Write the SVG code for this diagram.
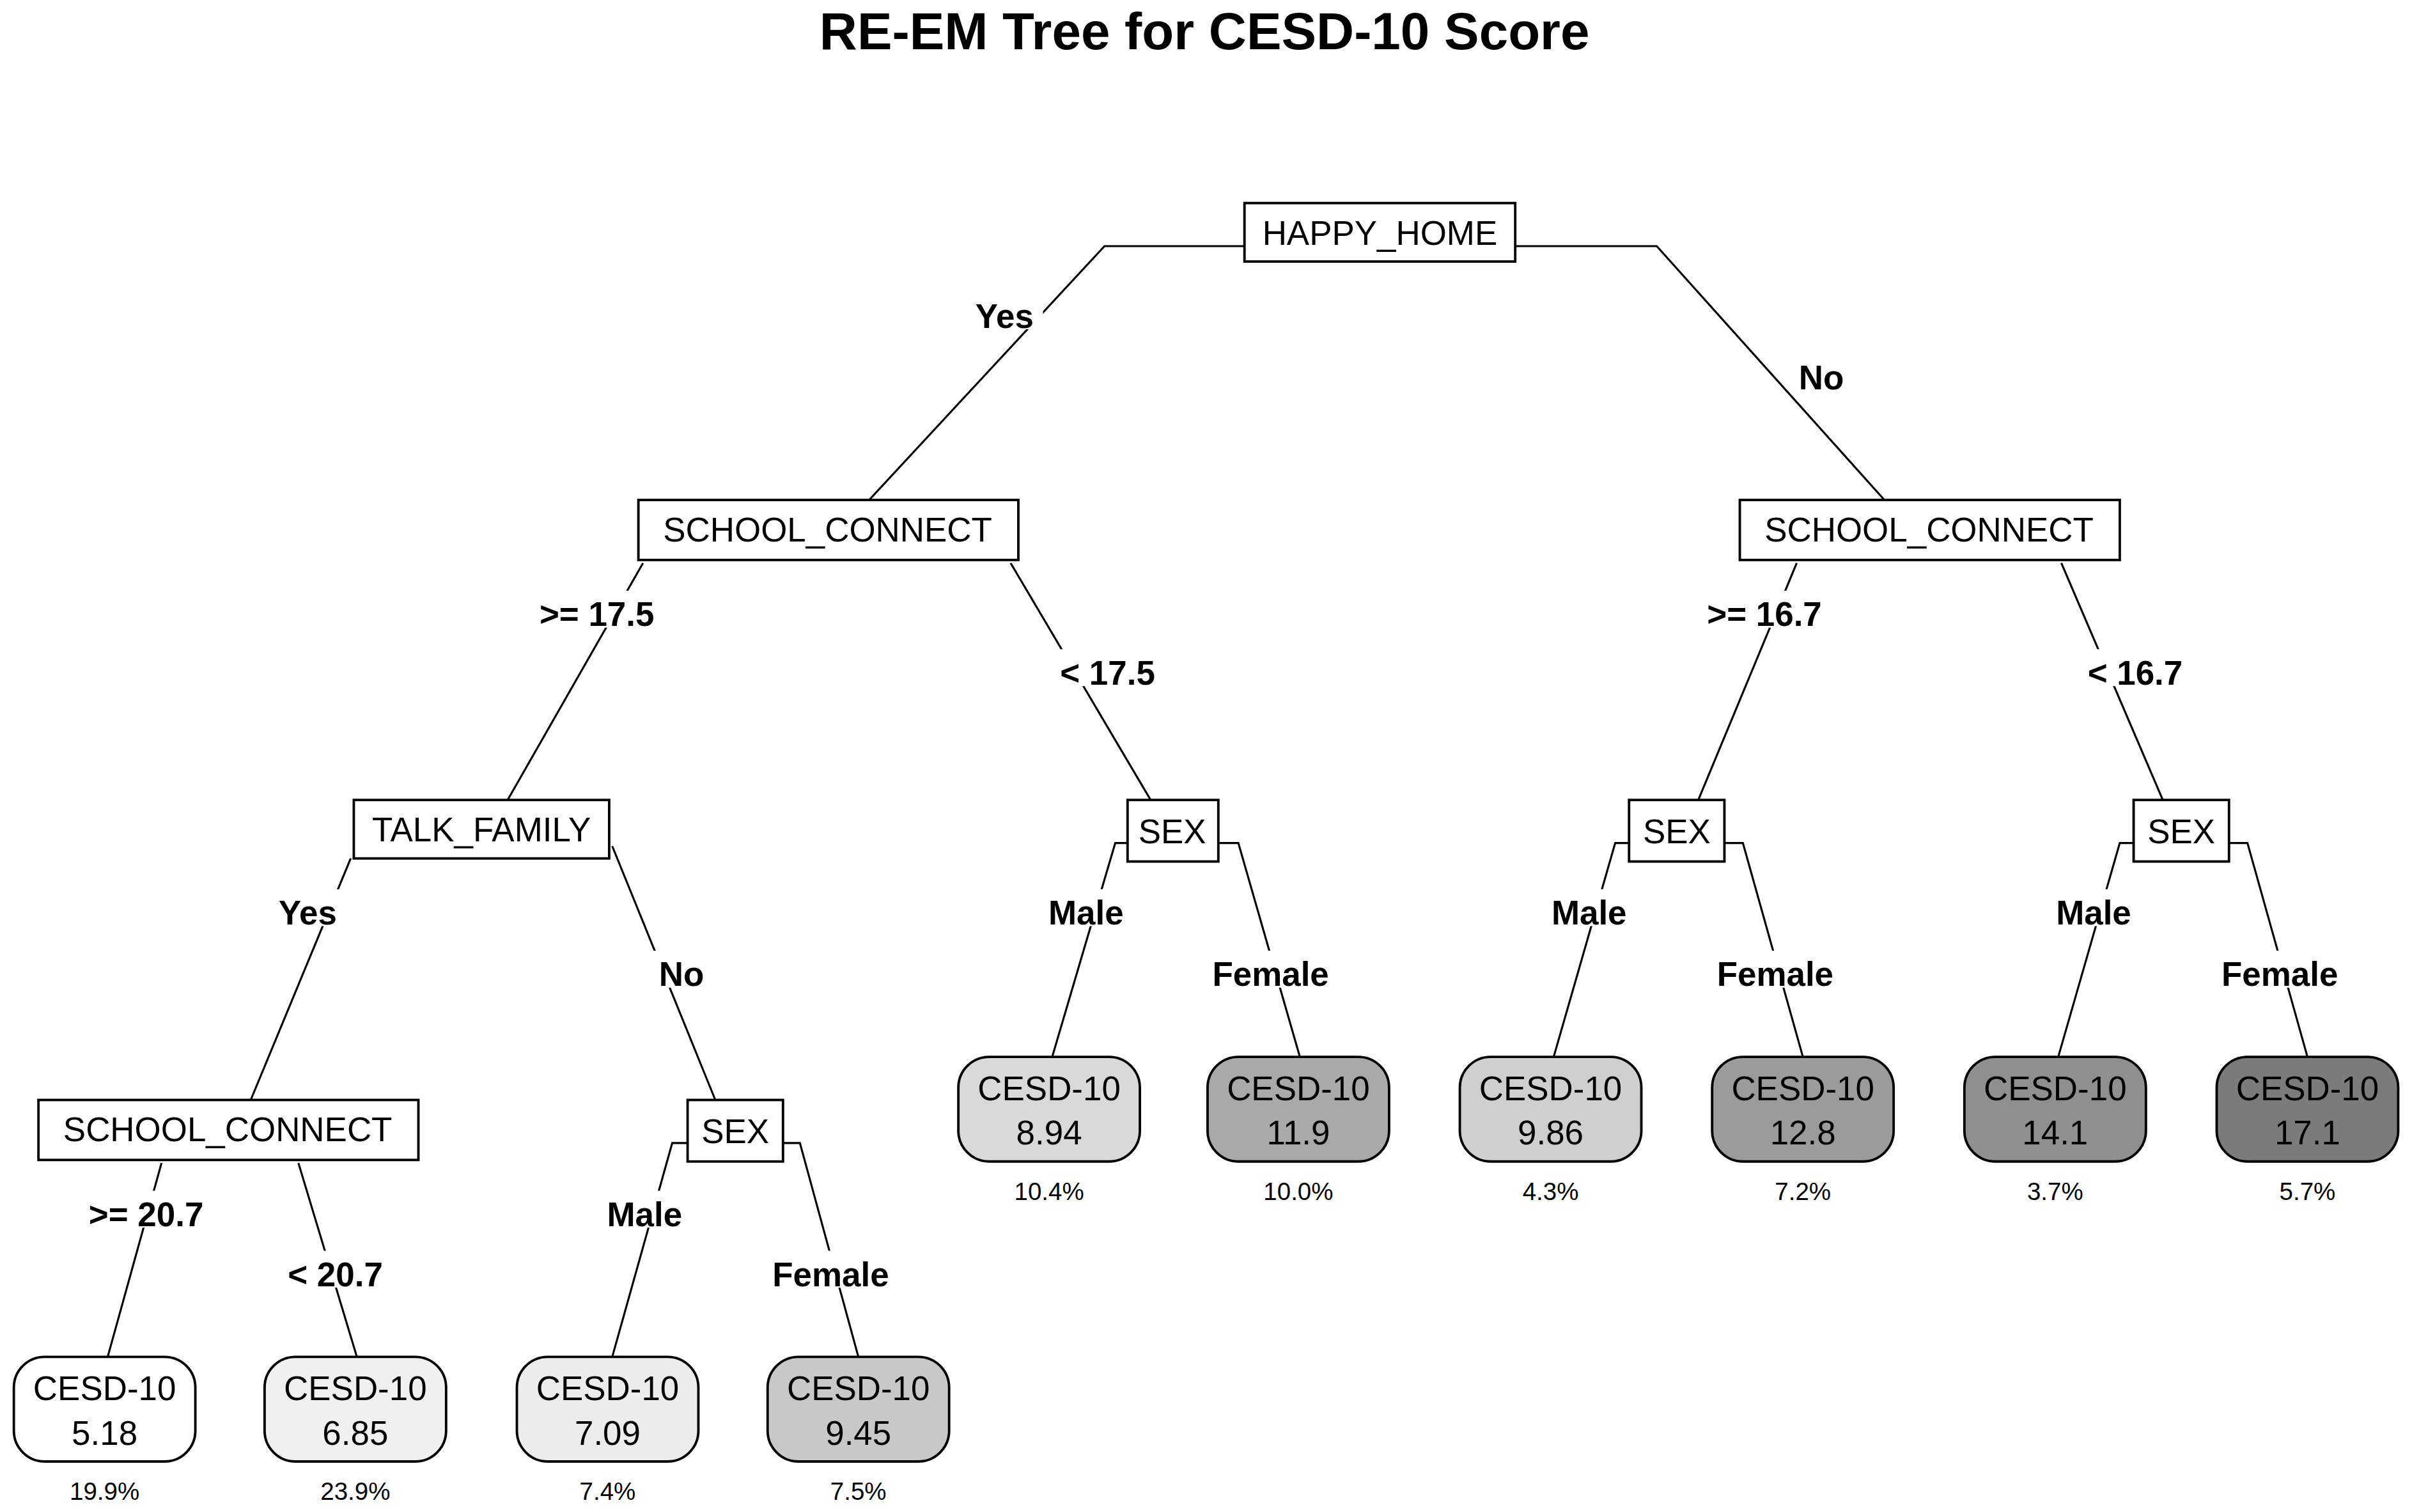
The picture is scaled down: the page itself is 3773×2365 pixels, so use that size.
<svg xmlns="http://www.w3.org/2000/svg" width="3773" height="2365" viewBox="0 0 3773 2365">
<style>
text{font-family:"Liberation Sans",Arial,sans-serif;text-anchor:middle}
.t{font-size:34px;font-weight:bold}
.n{font-size:22px}
.lb{font-size:22px;font-weight:bold}
.p{font-size:16px}
.box{fill:#fff;stroke:#000;stroke-width:1.6}
.leaf{stroke:#000;stroke-width:1.6}
.c{fill:none;stroke:#000;stroke-width:1.3}
.bg{fill:#fff}
</style>
<rect width="3773" height="2365" fill="#fff"/>
<g transform="scale(2.4063)">
<text class="t" x="783" y="32">RE-EM Tree for CESD-10 Score</text>
<g id="connectors">
<path class="c" d="M809,160H718L565,325M985,160H1077L1225,325"/>
<path class="c" d="M418,366L330,520M657,366L748,520M1168,366L1104,520M1340,366L1406,520"/>
<path class="c" d="M228,558L163,715M398,550L465,715"/>
<path class="c" d="M733,548H725L684,687M792,548H805L845,687"/>
<path class="c" d="M1059,548H1050L1010,687M1121,548H1133L1172,687"/>
<path class="c" d="M1387,548H1378L1338,687M1449,548H1461L1500,687"/>
<path class="c" d="M105,756L70,882M194,756L232,882"/>
<path class="c" d="M447,743H437L398,882M509,743H520L558,882"/>
<g class="lb">
<rect class="bg" x="628" y="190" width="50" height="24"/><text x="653" y="213">Yes</text>
<rect class="bg" x="1164" y="230" width="40" height="24"/><text x="1184" y="253">No</text>
<rect class="bg" x="345" y="384" width="86" height="24"/><text x="388" y="407">&gt;= 17.5</text>
<rect class="bg" x="685" y="422" width="70" height="24"/><text x="720" y="445">&lt; 17.5</text>
<rect class="bg" x="1104" y="384" width="86" height="24"/><text x="1147" y="407">&gt;= 16.7</text>
<rect class="bg" x="1353" y="422" width="70" height="24"/><text x="1388" y="445">&lt; 16.7</text>
<rect class="bg" x="176" y="578" width="48" height="24"/><text x="200" y="601">Yes</text>
<rect class="bg" x="424" y="618" width="38" height="24"/><text x="443" y="641">No</text>
<rect class="bg" x="678" y="578" width="56" height="24"/><text x="706" y="601">Male</text>
<rect class="bg" x="786" y="618" width="80" height="24"/><text x="826" y="641">Female</text>
<rect class="bg" x="1005" y="578" width="56" height="24"/><text x="1033" y="601">Male</text>
<rect class="bg" x="1114" y="618" width="80" height="24"/><text x="1154" y="641">Female</text>
<rect class="bg" x="1333" y="578" width="56" height="24"/><text x="1361" y="601">Male</text>
<rect class="bg" x="1442" y="618" width="80" height="24"/><text x="1482" y="641">Female</text>
<rect class="bg" x="52" y="774" width="86" height="24"/><text x="95" y="797">&gt;= 20.7</text>
<rect class="bg" x="183" y="813" width="70" height="24"/><text x="218" y="836">&lt; 20.7</text>
<rect class="bg" x="391" y="774" width="56" height="24"/><text x="419" y="797">Male</text>
<rect class="bg" x="500" y="813" width="80" height="24"/><text x="540" y="836">Female</text>
</g>
</g>
<g id="n_happy"><rect class="box" x="809" y="132" width="176" height="38"/><text class="n" x="897" y="159">HAPPY_HOME</text></g>
<g id="n_sc_l"><rect class="box" x="415" y="325" width="247" height="39"/><text class="n" x="538" y="352">SCHOOL_CONNECT</text></g>
<g id="n_sc_r"><rect class="box" x="1131" y="325" width="247" height="39"/><text class="n" x="1254" y="352">SCHOOL_CONNECT</text></g>
<g id="n_talk"><rect class="box" x="230" y="520" width="166" height="38"/><text class="n" x="313" y="547">TALK_FAMILY</text></g>
<g id="n_sex1"><rect class="box" x="733" y="520" width="59" height="40"/><text class="n" x="762" y="548">SEX</text></g>
<g id="n_sex2"><rect class="box" x="1059" y="520" width="62" height="40"/><text class="n" x="1090" y="548">SEX</text></g>
<g id="n_sex3"><rect class="box" x="1387" y="520" width="62" height="40"/><text class="n" x="1418" y="548">SEX</text></g>
<g id="n_sc_ll"><rect class="box" x="25" y="715" width="247" height="39"/><text class="n" x="148" y="742">SCHOOL_CONNECT</text></g>
<g id="n_sex4"><rect class="box" x="447" y="715" width="62" height="40"/><text class="n" x="478" y="743">SEX</text></g>
<g id="l1"><rect class="leaf" fill="#d9d9d9" x="623" y="687" width="118" height="68" rx="20"/><text class="n" x="682" y="715">CESD-10</text><text class="n" x="682" y="744">8.94</text><text class="p" x="682" y="780">10.4%</text></g>
<g id="l2"><rect class="leaf" fill="#a9a9a9" x="785" y="687" width="118" height="68" rx="20"/><text class="n" x="844" y="715">CESD-10</text><text class="n" x="844" y="744">11.9</text><text class="p" x="844" y="780">10.0%</text></g>
<g id="l3"><rect class="leaf" fill="#cfcfcf" x="949" y="687" width="118" height="68" rx="20"/><text class="n" x="1008" y="715">CESD-10</text><text class="n" x="1008" y="744">9.86</text><text class="p" x="1008" y="780">4.3%</text></g>
<g id="l4"><rect class="leaf" fill="#9b9b9b" x="1113" y="687" width="118" height="68" rx="20"/><text class="n" x="1172" y="715">CESD-10</text><text class="n" x="1172" y="744">12.8</text><text class="p" x="1172" y="780">7.2%</text></g>
<g id="l5"><rect class="leaf" fill="#8f8f8f" x="1277" y="687" width="118" height="68" rx="20"/><text class="n" x="1336" y="715">CESD-10</text><text class="n" x="1336" y="744">14.1</text><text class="p" x="1336" y="780">3.7%</text></g>
<g id="l6"><rect class="leaf" fill="#7b7b7b" x="1441" y="687" width="118" height="68" rx="20"/><text class="n" x="1500" y="715">CESD-10</text><text class="n" x="1500" y="744">17.1</text><text class="p" x="1500" y="780">5.7%</text></g>
<g id="l7"><rect class="leaf" fill="#ffffff" x="9" y="882" width="118" height="68" rx="20"/><text class="n" x="68" y="910">CESD-10</text><text class="n" x="68" y="939">5.18</text><text class="p" x="68" y="975">19.9%</text></g>
<g id="l8"><rect class="leaf" fill="#f0f0f0" x="172" y="882" width="118" height="68" rx="20"/><text class="n" x="231" y="910">CESD-10</text><text class="n" x="231" y="939">6.85</text><text class="p" x="231" y="975">23.9%</text></g>
<g id="l9"><rect class="leaf" fill="#ececec" x="336" y="882" width="118" height="68" rx="20"/><text class="n" x="395" y="910">CESD-10</text><text class="n" x="395" y="939">7.09</text><text class="p" x="395" y="975">7.4%</text></g>
<g id="l10"><rect class="leaf" fill="#c8c8c8" x="499" y="882" width="118" height="68" rx="20"/><text class="n" x="558" y="910">CESD-10</text><text class="n" x="558" y="939">9.45</text><text class="p" x="558" y="975">7.5%</text></g>
</g>
</svg>
